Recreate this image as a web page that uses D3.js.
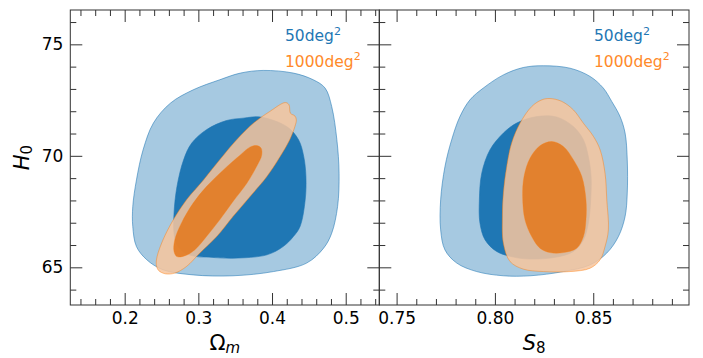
<!DOCTYPE html>
<html>
<head>
<meta charset="utf-8">
<script src="https://cdn.jsdelivr.net/npm/d3@7"></script>
<style>
  body { margin: 0; background: #fff; }
  svg { display: block; }
  text { font-family: "DejaVu Sans", sans-serif; }
</style>
</head>
<body>
<svg id="chart" width="703" height="358"></svg>
<script>
// Tick values and labels
const omegaTicks = [0.2, 0.3, 0.4, 0.5];
const s8Ticks = [0.75, 0.80, 0.85];
const h0Ticks = [65, 70, 75];
const surveyLabels = ["50deg", "1000deg"];

// Credible-region outlines, each point is [parameter, H0]
const omega50Outer = [[0.388,73.83],[0.429,73.71],[0.456,73.41],[0.472,73.04],[0.481,72.21],[0.488,70.72],[0.491,69.22],[0.489,67.73],[0.481,66.53],[0.470,65.86],[0.447,65.19],[0.402,64.81],[0.347,64.62],[0.293,64.66],[0.252,64.89],[0.230,65.34],[0.216,65.93],[0.211,66.83],[0.211,67.73],[0.216,68.92],[0.225,70.27],[0.239,71.47],[0.262,72.36],[0.293,72.96],[0.329,73.41],[0.357,73.71]];
const omega50Inner = [[0.361,71.69],[0.384,71.74],[0.420,71.31],[0.436,70.72],[0.443,69.97],[0.446,69.07],[0.445,68.03],[0.438,66.83],[0.429,66.38],[0.415,65.93],[0.393,65.56],[0.347,65.41],[0.311,65.46],[0.298,65.48],[0.282,65.64],[0.271,66.01],[0.267,66.53],[0.267,67.43],[0.271,68.62],[0.280,69.82],[0.291,70.57],[0.311,71.17],[0.338,71.58]];
const omega1000Outer = [[0.418,72.39],[0.423,72.29],[0.425,71.91],[0.431,71.79],[0.433,71.61],[0.431,71.31],[0.424,70.72],[0.411,69.97],[0.393,69.07],[0.370,68.17],[0.347,67.28],[0.325,66.38],[0.302,65.64],[0.284,65.04],[0.268,64.74],[0.255,64.71],[0.246,64.86],[0.243,65.11],[0.244,65.48],[0.252,66.23],[0.266,67.13],[0.284,68.03],[0.307,68.92],[0.329,69.82],[0.352,70.72],[0.375,71.47],[0.397,71.99]];
const omega1000Inner = [[0.379,70.46],[0.385,70.35],[0.386,70.04],[0.379,69.52],[0.366,68.78],[0.347,67.95],[0.329,67.13],[0.311,66.38],[0.295,65.78],[0.282,65.52],[0.271,65.48],[0.267,65.71],[0.268,66.23],[0.277,66.98],[0.293,67.88],[0.311,68.62],[0.334,69.37],[0.357,70.04],[0.370,70.39]];

const s850Outer = [[0.8246,74.04],[0.8382,73.93],[0.8484,73.56],[0.8551,73.04],[0.8594,72.44],[0.8636,71.77],[0.8662,71.02],[0.8673,69.82],[0.8673,68.33],[0.8662,67.28],[0.8628,66.38],[0.8569,65.64],[0.8484,65.11],[0.8348,64.81],[0.8179,64.62],[0.8043,64.62],[0.7907,64.81],[0.7806,65.19],[0.7746,65.78],[0.7724,66.68],[0.7724,68.03],[0.7746,69.52],[0.7780,70.72],[0.7822,71.76],[0.7873,72.51],[0.7941,73.04],[0.8043,73.63],[0.8144,73.96]];
const s850Inner = [[0.8213,71.76],[0.8314,71.74],[0.8399,71.31],[0.8450,70.72],[0.8475,69.97],[0.8489,69.07],[0.8487,68.03],[0.8475,66.98],[0.8450,66.23],[0.8399,65.71],[0.8314,65.46],[0.8179,65.37],[0.8094,65.46],[0.8009,65.71],[0.7950,66.23],[0.7924,66.98],[0.7921,68.03],[0.7933,69.22],[0.7975,70.27],[0.8043,71.02],[0.8111,71.47]];
const s81000Outer = [[0.8280,72.57],[0.8340,72.44],[0.8399,72.06],[0.8450,71.46],[0.8501,70.87],[0.8535,70.27],[0.8560,69.22],[0.8569,68.03],[0.8577,66.68],[0.8560,65.93],[0.8535,65.34],[0.8484,64.96],[0.8382,64.81],[0.8246,64.81],[0.8144,64.92],[0.8077,65.26],[0.8043,66.08],[0.8038,67.28],[0.8043,68.33],[0.8060,69.52],[0.8085,70.57],[0.8128,71.47],[0.8187,72.21],[0.8238,72.51]];
const s81000Inner = [[0.8289,70.64],[0.8348,70.42],[0.8399,69.82],[0.8442,69.07],[0.8463,68.03],[0.8463,67.13],[0.8450,66.38],[0.8416,65.86],[0.8348,65.66],[0.8280,65.66],[0.8229,65.86],[0.8187,66.38],[0.8153,67.13],[0.8141,68.17],[0.8148,69.07],[0.8179,69.90],[0.8229,70.45]];

const svg = d3.select("#chart");
const plotTop = 10, plotBottom = 305;
const axisColor = "#333";

const y = d3.scaleLinear().domain([63.31, 76.54]).range([plotBottom, plotTop]);

const panels = [
  {
    x: d3.scaleLinear().domain([0.1262, 0.5456]).range([70.3, 379.3]),
    major: omegaTicks, minor: d3.range(0.14, 0.545, 0.02), fmt: d3.format(".1f"),
    contours: [omega50Outer, omega50Inner, omega1000Outer, omega1000Inner],
    legendX: 285, yLabels: true, label: "omega"
  },
  {
    x: d3.scaleLinear().domain([0.7412, 0.8987]).range([379.3, 689]),
    major: s8Ticks, minor: d3.range(0.76, 0.895, 0.01), fmt: d3.format(".2f"),
    contours: [s850Outer, s850Inner, s81000Outer, s81000Inner],
    legendX: 594, yLabels: false, label: "s8"
  }
];

const styles = [
  { fill: "#a6c9e1", fillOpacity: 1, stroke: "#1f77b4", strokeOpacity: 0.55 },
  { fill: "#1f77b4", fillOpacity: 1, stroke: "#1f77b4", strokeOpacity: 0.6 },
  { fill: "rgb(247,197,157)", fillOpacity: 0.86, stroke: "#ff7f0e", strokeOpacity: 0.45 },
  { fill: "rgb(228,118,24)", fillOpacity: 0.84, stroke: "#ff7f0e", strokeOpacity: 0.35 }
];

const yMinor = d3.range(64, 77, 1).filter(v => !h0Ticks.includes(v));

panels.forEach(p => {
  const g = svg.append("g");
  const [x0, x1] = p.x.range();

  const clipId = "clip-" + p.label;
  svg.append("clipPath").attr("id", clipId)
    .append("rect").attr("x", x0).attr("y", plotTop).attr("width", x1 - x0).attr("height", plotBottom - plotTop);

  const line = d3.line()
    .x(d => p.x(d[0])).y(d => y(d[1]))
    .curve(d3.curveCatmullRomClosed.alpha(0.5));

  g.append("g").attr("clip-path", `url(#${clipId})`)
    .selectAll("path").data(p.contours).join("path")
    .attr("d", line)
    .attr("fill", (d, i) => styles[i].fill)
    .attr("fill-opacity", (d, i) => styles[i].fillOpacity)
    .attr("stroke", (d, i) => styles[i].stroke)
    .attr("stroke-opacity", (d, i) => styles[i].strokeOpacity)
    .attr("stroke-width", 1);

  // Inward ticks on all four sides
  const minorX = p.minor.filter(v => !p.major.some(m => Math.abs(m - v) < 1e-6));
  const addAxis = (axis, transform) => {
    const a = g.append("g").attr("transform", transform).call(axis);
    a.select(".domain").remove();
    a.selectAll("line").attr("stroke", axisColor).attr("stroke-width", 1);
    a.selectAll("text").attr("fill", "#000").style("font-size", "17px").style("font-family", "DejaVu Sans");
    return a;
  };
  addAxis(d3.axisBottom(p.x).tickValues(p.major).tickFormat(p.fmt).tickSize(-12).tickPadding(7), `translate(0,${plotBottom})`);
  addAxis(d3.axisBottom(p.x).tickValues(minorX).tickFormat("").tickSize(-6), `translate(0,${plotBottom})`);
  addAxis(d3.axisTop(p.x).tickValues(p.major).tickFormat("").tickSize(-12), `translate(0,${plotTop})`);
  addAxis(d3.axisTop(p.x).tickValues(minorX).tickFormat("").tickSize(-6), `translate(0,${plotTop})`);
  addAxis(d3.axisLeft(y).tickValues(h0Ticks).tickFormat(p.yLabels ? d3.format("d") : "").tickSize(-12).tickPadding(7), `translate(${x0},0)`);
  addAxis(d3.axisLeft(y).tickValues(yMinor).tickFormat("").tickSize(-6), `translate(${x0},0)`);
  addAxis(d3.axisRight(y).tickValues(h0Ticks).tickFormat("").tickSize(-12), `translate(${x1},0)`);
  addAxis(d3.axisRight(y).tickValues(yMinor).tickFormat("").tickSize(-6), `translate(${x1},0)`);

  g.append("rect")
    .attr("x", x0).attr("y", plotTop).attr("width", x1 - x0).attr("height", plotBottom - plotTop)
    .attr("fill", "none").attr("stroke", axisColor).attr("stroke-width", 1);

  // Survey-area labels
  const legendColors = ["#1f77b4", "#ff8a2a"];
  surveyLabels.forEach((lab, i) => {
    const t = g.append("text")
      .attr("x", p.legendX).attr("y", 41 + i * 25.5)
      .attr("fill", legendColors[i]).style("font-size", "15.5px");
    t.append("tspan").text(lab);
    t.append("tspan").attr("dy", -6.5).style("font-size", "11px").text("2");
  });

  // x-axis title
  const cx = (x0 + x1) / 2;
  const xt = g.append("text").attr("x", cx).attr("y", 350).attr("text-anchor", "middle")
    .attr("fill", "#000").style("font-size", "21px");
  if (p.label === "omega") {
    xt.append("tspan").text("Ω");
    xt.append("tspan").attr("dy", 3).style("font-size", "15px").style("font-style", "italic").text("m");
  } else {
    xt.append("tspan").style("font-style", "italic").text("S");
    xt.append("tspan").attr("dy", 3).style("font-size", "15px").text("8");
  }
});

// y-axis title
const yt = svg.append("text")
  .attr("transform", `translate(29,${(plotTop + plotBottom) / 2}) rotate(-90)`)
  .attr("text-anchor", "middle").attr("fill", "#000").style("font-size", "21px");
yt.append("tspan").style("font-style", "italic").text("H");
yt.append("tspan").attr("dy", 3).style("font-size", "15px").text("0");
</script>
</body>
</html>
